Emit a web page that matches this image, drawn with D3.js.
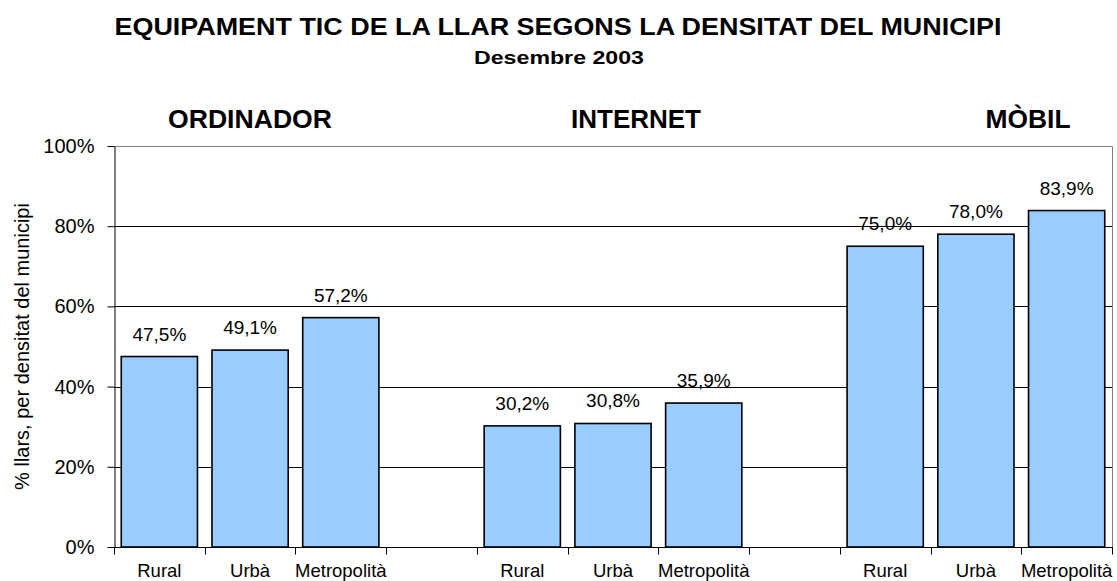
<!DOCTYPE html>
<html>
<head>
<meta charset="utf-8">
<script src="https://cdn.jsdelivr.net/npm/d3@7"></script>
<style>
  body { margin: 0; background: #fff; }
  svg { display: block; font-family: "Liberation Sans", Arial, sans-serif; }
</style>
</head>
<body>
<svg id="chart" width="1117" height="581"></svg>
<script>
// ---- data ----
const title = "EQUIPAMENT TIC DE LA LLAR SEGONS LA DENSITAT DEL MUNICIPI";
const subtitle = "Desembre 2003";
const groups = ["ORDINADOR", "INTERNET", "MÒBIL"];
const densities = ["Rural", "Urbà", "Metropolità"];
const ordinador = [47.5, 49.1, 57.2];
const internet = [30.2, 30.8, 35.9];
const mobil = [75.0, 78.0, 83.9];
const yTicks = [0, 20, 40, 60, 80, 100];
const yTitle = "% llars, per densitat del municipi";

// ---- layout ----
const svg = d3.select("#chart");
const W = 1117, H = 581;
const plot = { left: 114, right: 1112, top: 146, bottom: 547 };

// 11 slots: 3 bars, a gap, 3 bars, a gap, 3 bars
const seriesList = [ordinador, internet, mobil];
const slots = [];
seriesList.forEach((vals, g) => {
  vals.forEach((v, i) => slots.push({ key: slots.length, group: groups[g], label: densities[i], value: v }));
  if (g < seriesList.length - 1) slots.push({ key: slots.length, group: null, label: "", value: null });
});

const x = d3.scaleBand().domain(slots.map(d => d.key)).range([plot.left, plot.right]).padding(0);
const y = d3.scaleLinear().domain([0, 100]).range([plot.bottom, plot.top]);

// gridlines
svg.append("g").selectAll("line").data(yTicks.filter(t => t > 0 && t < 100)).join("line")
  .attr("x1", plot.left).attr("x2", plot.right)
  .attr("y1", d => Math.round(y(d)) + 0.5).attr("y2", d => Math.round(y(d)) + 0.5)
  .attr("stroke", "#000").attr("stroke-width", 1);

// plot border (top and right)
svg.append("path")
  .attr("d", `M${plot.left},${Math.round(y(100)) + 0.5}H${plot.right + 0.5}V${plot.bottom}`)
  .attr("fill", "none").attr("stroke", "#808080").attr("stroke-width", 1);

// bars
const barPad = 0.08;
const bars = slots.filter(d => d.value !== null);
svg.append("g").selectAll("rect").data(bars).join("rect")
  .attr("x", d => x(d.key) + x.bandwidth() * barPad)
  .attr("width", x.bandwidth() * (1 - 2 * barPad))
  .attr("y", d => y(d.value))
  .attr("height", d => y(0) - y(d.value))
  .attr("fill", "#99CCFF")
  .attr("stroke", "#000").attr("stroke-width", 1.6);

// value labels
const fmt = v => v.toFixed(1).replace(".", ",") + "%";
svg.append("g").selectAll("text").data(bars).join("text")
  .attr("x", d => x(d.key) + x.bandwidth() / 2)
  .attr("y", d => y(d.value) - 16)
  .attr("text-anchor", "middle")
  .attr("font-size", 19)
  .attr("fill", "#000")
  .text(d => fmt(d.value));

// y axis
const yAxis = svg.append("g").attr("transform", `translate(${plot.left + 0.5},0)`)
  .call(d3.axisLeft(y).tickValues(yTicks).tickFormat(d => d + "%").tickSize(7).tickSizeOuter(0).tickPadding(13));
yAxis.select(".domain").attr("stroke", "#000");
yAxis.selectAll(".tick line").attr("stroke", "#000");
yAxis.selectAll("text").attr("font-size", 20).attr("font-family", "Liberation Sans, Arial, sans-serif").attr("fill", "#000");

// x axis: ticks at slot boundaries
const xAxis = svg.append("g").attr("transform", `translate(0,${plot.bottom + 0.5})`);
xAxis.append("line").attr("x1", plot.left).attr("x2", plot.right + 1).attr("stroke", "#000");
const boundaries = slots.map(d => x(d.key)).concat([x(slots[slots.length - 1].key) + x.bandwidth()]);
xAxis.selectAll(".tk").data(boundaries).join("line").attr("class", "tk")
  .attr("x1", d => Math.round(d) + 0.5).attr("x2", d => Math.round(d) + 0.5)
  .attr("y1", 0).attr("y2", 7).attr("stroke", "#000");
xAxis.selectAll(".lbl").data(slots.filter(d => d.label)).join("text").attr("class", "lbl")
  .attr("x", d => x(d.key) + x.bandwidth() / 2)
  .attr("y", 29)
  .attr("text-anchor", "middle")
  .attr("font-size", 18.5)
  .attr("fill", "#000")
  .text(d => d.label);

// y title
svg.append("text")
  .attr("transform", `translate(29,${(plot.top + plot.bottom) / 2}) rotate(-90)`)
  .attr("text-anchor", "middle")
  .attr("font-size", 20)
  .attr("fill", "#000")
  .text(yTitle);

// titles
svg.append("text")
  .attr("x", 558).attr("y", 35)
  .attr("text-anchor", "middle")
  .attr("font-size", 24.5).attr("font-weight", "bold")
  .attr("textLength", 887).attr("lengthAdjust", "spacingAndGlyphs")
  .text(title);
svg.append("text")
  .attr("x", 559).attr("y", 64)
  .attr("text-anchor", "middle")
  .attr("font-size", 19).attr("font-weight", "bold")
  .attr("textLength", 170).attr("lengthAdjust", "spacingAndGlyphs")
  .text(subtitle);

// group headings (free-floating text boxes above the plot)
const groupLabelX = [250, 636, 1028];
const groupLabelW = [164, 130, 85];
svg.append("g").selectAll("text").data(groups).join("text")
  .attr("x", (d, i) => groupLabelX[i]).attr("y", 128)
  .attr("text-anchor", "middle")
  .attr("font-size", 25).attr("font-weight", "bold")
  .attr("textLength", (d, i) => groupLabelW[i]).attr("lengthAdjust", "spacingAndGlyphs")
  .text(d => d);
</script>
</body>
</html>
